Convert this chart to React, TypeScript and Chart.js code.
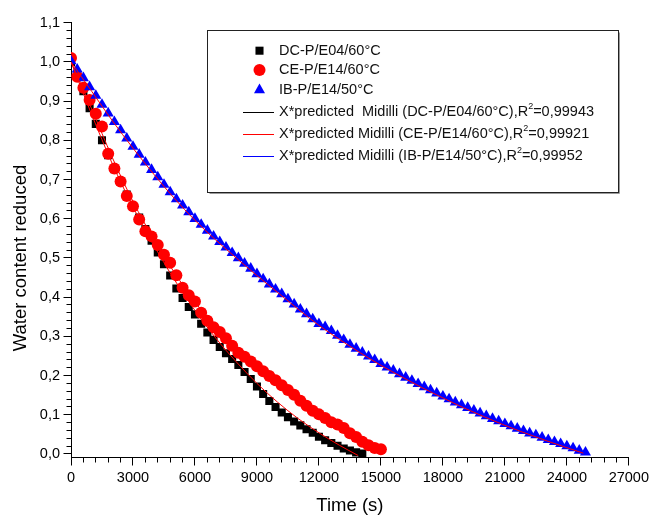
import React, { useEffect, useRef } from 'react';
import { Chart, registerables } from 'chart.js';

Chart.register(...registerables);

// ---- Data ----
const sampleTimes = [
  0, 300, 600, 900, 1200, 1500, 1800, 2100, 2400, 2700,
  3000, 3300, 3600, 3900, 4200, 4500, 4800, 5100, 5400, 5700,
  6000, 6300, 6600, 6900, 7200, 7500, 7800, 8100, 8400, 8700,
  9000, 9300, 9600, 9900, 10200, 10500, 10800, 11100, 11400, 11700,
  12000, 12300, 12600, 12900, 13200, 13500, 13800, 14100, 14400, 14700,
  15000, 15300, 15600, 15900, 16200, 16500, 16800, 17100, 17400, 17700,
  18000, 18300, 18600, 18900, 19200, 19500, 19800, 20100, 20400, 20700,
  21000, 21300, 21600, 21900, 22200, 22500, 22800, 23100, 23400, 23700,
  24000, 24300, 24600, 24900,
];

const dcValues = [
  1.0, 0.962, 0.925, 0.882, 0.842, 0.8, 0.762, 0.726, 0.695, 0.662,
  0.632, 0.603, 0.574, 0.544, 0.514, 0.484, 0.455, 0.422, 0.398, 0.375,
  0.356, 0.332, 0.31, 0.291, 0.273, 0.257, 0.242, 0.227, 0.209, 0.191,
  0.172, 0.153, 0.135, 0.12, 0.106, 0.094, 0.083, 0.073, 0.063, 0.054,
  0.044, 0.035, 0.028, 0.021, 0.014, 0.009, 0.004, 0.001,
];

const ceValues = [
  1.01, 0.962, 0.934, 0.903, 0.868, 0.835, 0.766, 0.728, 0.695, 0.658,
  0.632, 0.598, 0.568, 0.555, 0.533, 0.508, 0.488, 0.456, 0.424, 0.405,
  0.389, 0.36, 0.34, 0.323, 0.311, 0.295, 0.276, 0.258, 0.248, 0.236,
  0.224, 0.211, 0.199, 0.188, 0.175, 0.163, 0.151, 0.136, 0.123, 0.11,
  0.101, 0.092, 0.081, 0.075, 0.066, 0.053, 0.043, 0.031, 0.022, 0.015,
  0.012,
];

const ibValues = [
  1.002, 0.981, 0.959, 0.936, 0.914, 0.891, 0.869, 0.847, 0.826, 0.805,
  0.784, 0.764, 0.744, 0.725, 0.706, 0.687, 0.668, 0.65, 0.634, 0.617,
  0.6, 0.585, 0.57, 0.555, 0.541, 0.527, 0.513, 0.5, 0.486, 0.473,
  0.459, 0.446, 0.433, 0.42, 0.408, 0.395, 0.382, 0.369, 0.357, 0.344,
  0.332, 0.324, 0.314, 0.302, 0.291, 0.279, 0.269, 0.259, 0.249, 0.24,
  0.23, 0.221, 0.213, 0.204, 0.195, 0.187, 0.179, 0.171, 0.163, 0.155,
  0.147, 0.14, 0.132, 0.125, 0.118, 0.111, 0.104, 0.097, 0.09, 0.084,
  0.077, 0.071, 0.065, 0.059, 0.053, 0.048, 0.042, 0.036, 0.031, 0.026,
  0.02, 0.015, 0.009, 0.004,
];

const dcFitTimes = [0, 1000, 2000, 3000, 4000, 5000, 6000, 7000, 8000, 9000, 10000, 11000, 12000, 13000, 13900];
const dcFitValues = [1.0, 0.866, 0.74, 0.63, 0.533, 0.445, 0.366, 0.296, 0.235, 0.18, 0.132, 0.09, 0.054, 0.022, -0.004];

const ceFitTimes = [0, 1000, 2000, 3000, 4000, 5000, 6000, 7000, 8000, 9000, 10000, 11000, 12000, 13000, 14000, 15000];
const ceFitValues = [1.0, 0.88, 0.756, 0.644, 0.548, 0.463, 0.388, 0.323, 0.27, 0.224, 0.182, 0.142, 0.104, 0.068, 0.034, 0.004];

const ibFitTimes = [0, 1000, 2000, 3000, 4000, 5000, 6000, 7000, 8000, 9000, 10000, 11000, 12000, 13000, 14000, 15000, 16000, 17000, 18000, 19000, 20000, 21000, 22000, 23000, 24000, 24800];
const ibFitValues = [1.0, 0.925, 0.85, 0.78, 0.714, 0.652, 0.596, 0.546, 0.5, 0.455, 0.412, 0.369, 0.328, 0.292, 0.258, 0.226, 0.197, 0.169, 0.143, 0.118, 0.095, 0.073, 0.053, 0.034, 0.016, 0.002];

const seriesLabels = ['DC-P/E04/60°C', 'CE-P/E14/60°C', 'IB-P/E14/50°C'];
const fitLabels = [
  'X*predicted  Midilli (DC-P/E04/60°C),R²=0,99943',
  'X*predicted Midilli (CE-P/E14/60°C),R²=0,99921',
  'X*predicted Midilli (IB-P/E14/50°C),R²=0,99952',
];
const fitLegendColors = ['#000000', '#ff0000', '#0000ff'];

const xTickValues = [0, 3000, 6000, 9000, 12000, 15000, 18000, 21000, 24000, 27000];
const xTickLabels = ['0', '3000', '6000', '9000', '12000', '15000', '18000', '21000', '24000', '27000'];
const yTickValues = [0, 0.1, 0.2, 0.3, 0.4, 0.5, 0.6, 0.7, 0.8, 0.9, 1.0, 1.1];
const yTickLabels = ['0,0', '0,1', '0,2', '0,3', '0,4', '0,5', '0,6', '0,7', '0,8', '0,9', '1,0', '1,1'];

const xTitle = 'Time (s)';
const yTitle = 'Water content reduced';

const FONT = "'Liberation Sans', Arial, sans-serif";

const SQUARE_R = 5.7;
const CIRCLE_R = 6;
const TRIANGLE_R = 6.4;

const toPoints = (xs: number[], ys: number[]) => ys.map((y, i) => ({ x: xs[i], y }));

function drawMarker(ctx: CanvasRenderingContext2D, kind: string, x: number, y: number, color: string) {
  ctx.fillStyle = color;
  ctx.beginPath();
  if (kind === 'rect') {
    const h = SQUARE_R * Math.SQRT1_2;
    ctx.rect(x - h, y - h, 2 * h, 2 * h);
  } else if (kind === 'circle') {
    ctx.arc(x, y, CIRCLE_R, 0, Math.PI * 2);
  } else {
    const r = TRIANGLE_R;
    ctx.moveTo(x, y - r);
    ctx.lineTo(x + r * Math.sin((2 * Math.PI) / 3), y - r * Math.cos((2 * Math.PI) / 3));
    ctx.lineTo(x + r * Math.sin((4 * Math.PI) / 3), y - r * Math.cos((4 * Math.PI) / 3));
    ctx.closePath();
  }
  ctx.fill();
}

function drawSupText(ctx: CanvasRenderingContext2D, text: string, x: number, y: number, size: number) {
  const parts = text.split('²');
  ctx.textBaseline = 'middle';
  ctx.textAlign = 'left';
  let cx = x;
  parts.forEach((p, i) => {
    ctx.font = `${size}px ${FONT}`;
    ctx.fillText(p, cx, y);
    cx += ctx.measureText(p).width;
    if (i < parts.length - 1) {
      ctx.font = `${size * 0.62}px ${FONT}`;
      ctx.fillText('2', cx, y - 5.5);
      cx += ctx.measureText('2').width;
    }
  });
}

const ticksPlugin = {
  id: 'manualTicks',
  afterDraw(chart: any) {
    const { ctx, chartArea } = chart;
    const xs = chart.scales.x;
    const ys = chart.scales.y;
    ctx.save();
    ctx.strokeStyle = '#000';
    ctx.lineWidth = 1;
    ctx.beginPath();
    const bottom = Math.round(chartArea.bottom - 0.5) + 0.5;
    for (let i = 0; i <= 45; i++) {
      const px = Math.round(xs.getPixelForValue(i * 600) - 0.5) + 0.5;
      const len = i % 5 === 0 ? 8 : 5;
      ctx.moveTo(px, bottom);
      ctx.lineTo(px, bottom + len);
    }
    const left = Math.round(chartArea.left - 0.5) + 0.5;
    for (let i = 0; i <= 55; i++) {
      const py = Math.round(ys.getPixelForValue(i * 0.02) - 0.5) + 0.5;
      const len = i % 5 === 0 ? 8 : 5;
      ctx.moveTo(left - len, py);
      ctx.lineTo(left, py);
    }
    ctx.stroke();

    // axis titles
    ctx.fillStyle = '#000';
    ctx.font = `18.5px ${FONT}`;
    ctx.textAlign = 'center';
    ctx.textBaseline = 'middle';
    ctx.fillText(xTitle, (chartArea.left + chartArea.right) / 2, 506);
    ctx.save();
    ctx.translate(20.5, 258);
    ctx.rotate(-Math.PI / 2);
    ctx.fillText(yTitle, 0, 0);
    ctx.restore();
    ctx.restore();
  },
};

const legendPlugin = {
  id: 'boxLegend',
  afterDraw(chart: any) {
    const ctx: CanvasRenderingContext2D = chart.ctx;
    ctx.save();
    const bx = 207.5, by = 30.5, bw = 411, bh = 162;
    ctx.fillStyle = '#fff';
    ctx.fillRect(bx, by, bw, bh);
    ctx.strokeStyle = '#9a9a9a';
    ctx.lineWidth = 1;
    ctx.beginPath();
    ctx.moveTo(bx + 2, by + bh + 1);
    ctx.lineTo(bx + bw + 1, by + bh + 1);
    ctx.lineTo(bx + bw + 1, by + 2);
    ctx.stroke();
    ctx.strokeStyle = '#222';
    ctx.strokeRect(bx, by, bw, bh);

    const markerKinds = ['rect', 'circle', 'triangle'];
    const markerColors = ['#000000', '#ff0000', '#0000ff'];
    const rowsY = [50.7, 70, 90, 111.7, 134, 156];
    const textX = 279;
    for (let i = 0; i < 3; i++) {
      drawMarker(ctx, markerKinds[i], 259.5, rowsY[i], markerColors[i]);
      ctx.fillStyle = '#111';
      drawSupText(ctx, seriesLabels[i], textX, rowsY[i], 14.5);
    }
    for (let i = 0; i < 3; i++) {
      const y = Math.round(rowsY[i + 3]) + 0.5;
      ctx.strokeStyle = fitLegendColors[i];
      ctx.lineWidth = 1;
      ctx.beginPath();
      ctx.moveTo(243, y);
      ctx.lineTo(274, y);
      ctx.stroke();
      ctx.fillStyle = '#111';
      drawSupText(ctx, fitLabels[i], textX, rowsY[i + 3], 14.5);
    }
    ctx.restore();
  },
};

export default function App() {
  const ref = useRef<HTMLCanvasElement>(null);
  useEffect(() => {
    document.body.style.margin = '0';
    const canvas = ref.current;
    if (!canvas) return;
    const fitStyle = {
      showLine: true,
      pointRadius: 0,
      borderColor: '#ff0000',
      backgroundColor: '#ff0000',
      borderWidth: 1,
      tension: 0.4,
      cubicInterpolationMode: 'monotone' as const,
      order: 0,
    };
    const chart = new Chart(canvas, {
      type: 'scatter',
      data: {
        datasets: [
          {
            label: seriesLabels[0],
            data: toPoints(sampleTimes, dcValues),
            pointStyle: 'rect',
            pointRadius: SQUARE_R,
            pointBorderWidth: 0,
            backgroundColor: '#000000',
            borderColor: '#000000',
            order: 3,
          },
          {
            label: seriesLabels[1],
            data: toPoints(sampleTimes, ceValues),
            pointStyle: 'circle',
            pointRadius: CIRCLE_R,
            pointBorderWidth: 0,
            backgroundColor: '#ff0000',
            borderColor: '#ff0000',
            order: 2,
          },
          {
            label: seriesLabels[2],
            data: toPoints(sampleTimes, ibValues),
            pointStyle: 'triangle',
            pointRadius: TRIANGLE_R,
            pointBorderWidth: 0,
            backgroundColor: '#0000ff',
            borderColor: '#0000ff',
            order: 1,
          },
          { label: fitLabels[0], data: toPoints(dcFitTimes, dcFitValues), ...fitStyle },
          { label: fitLabels[1], data: toPoints(ceFitTimes, ceFitValues), ...fitStyle },
          { label: fitLabels[2], data: toPoints(ibFitTimes, ibFitValues), ...fitStyle },
        ] as any,
      },
      options: {
        animation: false,
        responsive: false,
        events: [],
        layout: { padding: { top: 22.7, right: 26, left: 0, bottom: 0 } },
        plugins: { legend: { display: false }, tooltip: { enabled: false } },
        scales: {
          x: {
            type: 'linear',
            min: 0,
            max: 27000,
            grid: { display: false, drawTicks: false },
            border: { display: true, color: '#000', width: 1 },
            ticks: {
              color: '#000',
              font: { family: FONT, size: 14.5 },
              padding: 12,
              maxRotation: 0,
              autoSkip: false,
              callback: (_v: any, i: number) => xTickLabels[i],
            },
            afterBuildTicks: (scale: any) => {
              scale.ticks = xTickValues.map((v) => ({ value: v }));
            },
            afterFit: (scale: any) => {
              scale.height = 58.5;
            },
          },
          y: {
            type: 'linear',
            min: -0.009,
            max: 1.1,
            grid: { display: false, drawTicks: false },
            border: { display: true, color: '#000', width: 1 },
            ticks: {
              color: '#000',
              font: { family: FONT, size: 14.5 },
              padding: 11,
              autoSkip: false,
              callback: (_v: any, i: number) => yTickLabels[i],
            },
            afterBuildTicks: (scale: any) => {
              scale.ticks = yTickValues.map((v) => ({ value: v }));
            },
            afterFit: (scale: any) => {
              scale.width = 71;
            },
          },
        },
      } as any,
      plugins: [ticksPlugin, legendPlugin],
    });
    return () => chart.destroy();
  }, []);
  return (
    <div style={{ width: 661, height: 516 }}>
      <canvas ref={ref} width={661} height={516} style={{ display: 'block' }} />
    </div>
  );
}
